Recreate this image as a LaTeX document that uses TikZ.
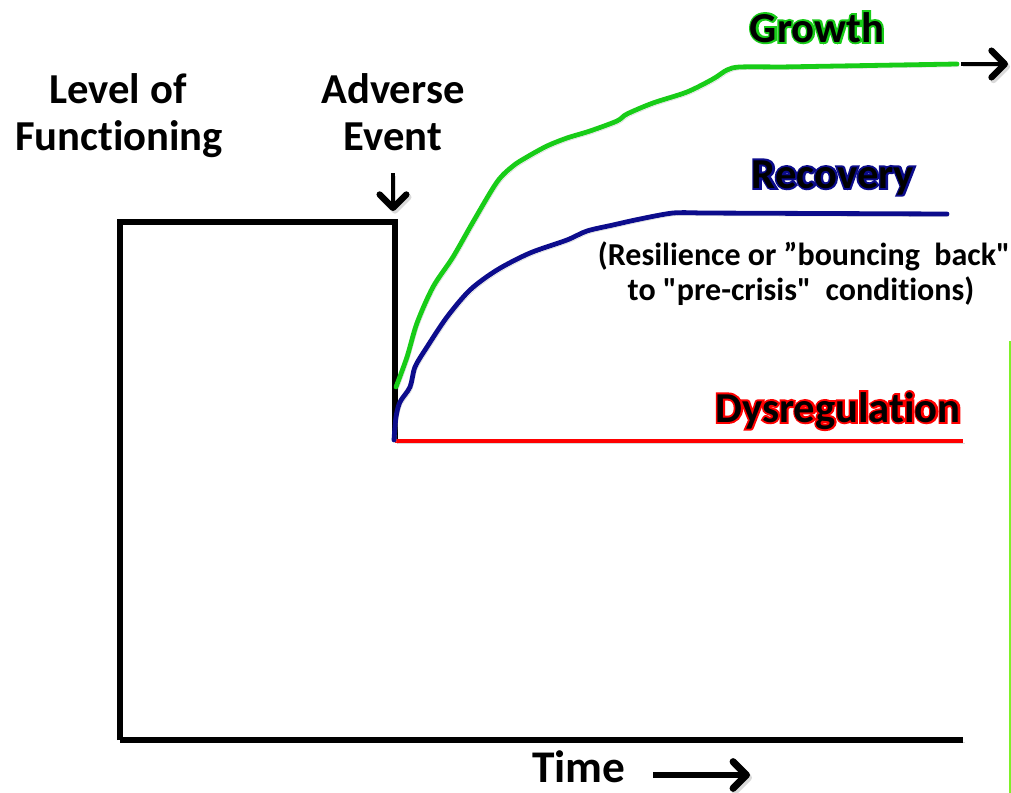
\documentclass[tikz,border=0pt]{standalone}
\usepackage{fontspec}
\newfontfamily\calib{Carlito}[Ligatures=NoCommon]
\newfontfamily\calibglow{Carlito}[Ligatures=NoCommon, FakeBold=9]
\usetikzlibrary{arrows.meta}

\definecolor{growthgreen}{RGB}{24,204,24}
\definecolor{recoveryblue}{RGB}{12,12,140}
\definecolor{dysred}{RGB}{255,0,0}
\definecolor{edgegreen}{RGB}{128,240,40}

\begin{document}
\begin{tikzpicture}[x=0.75pt, y=-0.75pt,
    shade/.style={preaction={draw=black!25, opacity=0.6, transform canvas={shift={(1.5pt,-2pt)}}}},
    axis/.style={shade, line width=3.8pt, black},
    curve/.style={shade, line width=3.6pt, line join=round, line cap=round},
    big/.style={font=\calib\bfseries\fontsize{32}{38}\selectfont, anchor=base, text depth=0pt, inner sep=1pt},
    glow/.style={font=\calibglow\bfseries\fontsize{32}{38}\selectfont, anchor=base, text depth=0pt, inner sep=1pt},
    small/.style={font=\calib\bfseries\fontsize{24}{29}\selectfont, anchor=base},
    pointer/.style={shade, -{Straight Barb[length=10pt, width=20pt, line width=0pt 1.4, round]}, line width=3.4pt}]
    \useasboundingbox (0,0) rectangle (1011,793);

    % Axis labels
    \node[big] (level) at (118,103) {Level of};
    \node[big] (func) at (119,150) {Functioning};
    \node[big] (adverse) at (393,103) {Adverse};
    \node[big] (event) at (393,150) {Event};
    \node[big, font=\calib\bfseries\fontsize{34}{40}\selectfont] (time) at (579,782) {Time};

    % Corner points of the functioning line
    \coordinate (top left) at (120,222);
    \coordinate (drop) at (395,222);
    \coordinate (low) at (395,441);
    \coordinate (origin) at (120,740);
    \coordinate (end axis) at (963,740);

    % Level of functioning and time axis
    \draw[axis, line join=miter] (origin) -- (top left) -- (drop) -- (low);
    \draw[axis] (origin) -- (end axis);

    % Adverse event and time arrows
    \coordinate (event tip) at (393,211);
    \draw[pointer] (event.south |- 0,173) -- (event tip);
    \coordinate (time start) at (653,775);
    \coordinate (time end) at (750,775);
    \draw[pointer, line width=3.8pt] (time start) -- (time end);

    % Dysregulation
    \coordinate (dys end) at (963,441);
    \draw[curve, dysred, line cap=butt] (low) -- (dys end);
    \node[glow, dysred] (dys glow) at (838,422) {Dysregulation};
    \node[big] (dys) at (838,422) {Dysregulation};

    % Recovery
    \coordinate (rec end) at (947,214);
    \draw[curve, recoveryblue] plot[smooth, tension=0.5] coordinates {
        (394,440) (396,417) (400,402) (410,387) (415,367) (427,347)
        (447,317) (470,290) (497,270) (530,253) (567,240) (587,231)
        (613,225) (640,219) (673,213) (700,213)} -- (rec end);
    \node[glow, recoveryblue] (rec glow) at (833,188) {Recovery};
    \node[big] (rec) at (833,188) {Recovery};
    \node[small] (res1) at (804,265) {(Resilience or ”bouncing\ \ back"};
    \node[small] (res2) at (801,300) {to "pre-crisis"\ \ conditions)};

    % Growth
    \coordinate (grow end) at (957,64);
    \draw[curve, growthgreen] plot[smooth, tension=0.5] coordinates {
        (396,387) (407,357) (417,323) (433,287) (453,257) (473,222)
        (497,182) (513,166) (527,157) (547,146) (567,138) (590,131)
        (617,121) (627,114) (653,103) (687,92) (713,79) (727,70)
        (740,67) (780,67)} -- (grow end);
    \node[glow, growthgreen] (growth glow) at (817,42) {Growth};
    \node[big] (growth) at (817,42) {Growth};
    \coordinate (grow tip) at (1008,64);
    \draw[pointer] ([xshift=3pt]grow end) -- (grow tip);

    % Right edge line
    \draw[edgegreen, line width=1.2pt] (1010,341) -- (1010,793);
\end{tikzpicture}
\end{document}
